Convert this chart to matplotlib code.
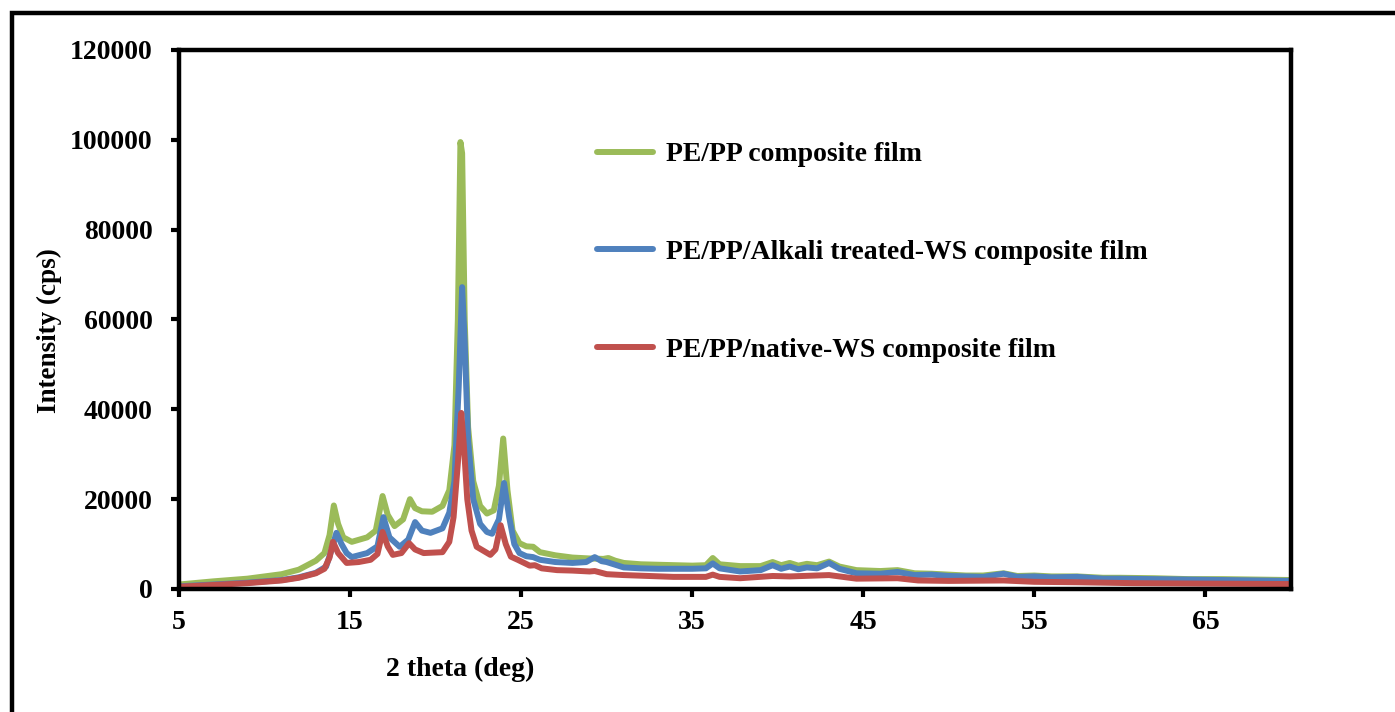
import matplotlib
matplotlib.use("Agg")
import matplotlib.pyplot as plt
from matplotlib.patches import Rectangle

# ---- data ----
labels = ["PE/PP composite film",
          "PE/PP/Alkali treated-WS composite film",
          "PE/PP/native-WS composite film"]
colors = ["#9BBB59", "#4F81BD", "#C0504D"]

x_green = [5, 7, 9, 11, 12, 13, 13.5, 13.8, 14.05, 14.3, 14.6, 15.1, 16.0, 16.5, 16.9, 17.2,
           17.6, 18.1, 18.5, 18.8, 19.2, 19.8, 20.4, 20.8, 21.1, 21.3, 21.45, 21.55, 21.7,
           21.9, 22.2, 22.6, 23.0, 23.4, 23.7, 23.95, 24.2, 24.5, 24.9, 25.3, 25.7, 26.1,
           27.0, 28.0, 29.0, 29.8, 30.1, 30.5, 31.0, 32.0, 33.0, 34.0, 35.0, 35.8, 36.2,
           36.6, 37.8, 39.0, 39.7, 40.2, 40.7, 41.2, 41.7, 42.3, 43.0, 43.6, 44.6, 46.0,
           47.0, 48.0, 49.0, 50, 51, 52, 53.2, 54, 55, 56, 57.5, 59, 60, 62, 64, 66, 68, 70]
y_green = [1000, 1700, 2300, 3300, 4300, 6300, 8000, 12000, 18600, 14500, 11500, 10500,
           11500, 13000, 20700, 16500, 14000, 15500, 20000, 18000, 17300, 17200, 18500,
           22000, 32000, 60000, 99500, 97000, 60000, 36000, 24000, 18500, 16800, 17500,
           23000, 33500, 22000, 13000, 10200, 9500, 9400, 8200, 7500, 7000, 6800, 6700,
           6900, 6300, 5800, 5500, 5400, 5300, 5200, 5300, 6900, 5500, 5100, 5100, 6000,
           5300, 5800, 5200, 5600, 5300, 6100, 5000, 4200, 4000, 4200, 3500, 3400, 3200,
           3000, 3000, 3500, 2900, 3000, 2800, 2800, 2500, 2500, 2400, 2200, 2200, 2100, 2000]

x_blue = [5, 7, 9, 11, 12, 13, 13.6, 13.9, 14.2, 14.5, 14.8, 15.1, 16.0, 16.6, 16.95, 17.3,
          17.9, 18.4, 18.8, 19.2, 19.7, 20.4, 20.8, 21.1, 21.35, 21.55, 21.7, 21.9, 22.2,
          22.6, 23.0, 23.3, 23.7, 24.0, 24.3, 24.6, 24.9, 25.3, 25.7, 26.1, 27.0, 28.0,
          28.8, 29.3, 29.7, 30.0, 31.0, 32, 33, 34, 35, 35.8, 36.2, 36.6, 37.8, 39.0, 39.7,
          40.2, 40.7, 41.2, 41.7, 42.3, 43.0, 43.6, 44.6, 46, 47, 48, 49, 50, 51, 52, 53.2,
          54, 55, 56, 57.5, 59, 60, 62, 64, 66, 68, 70]
y_blue = [600, 1000, 1400, 2000, 2600, 3600, 5000, 8500, 12500, 10000, 8000, 7100, 8000,
          9500, 16000, 11500, 9400, 11000, 14900, 13000, 12500, 13500, 17000, 24000, 45000,
          67200, 55000, 33000, 20000, 14500, 12700, 12300, 15500, 23600, 16000, 10000, 8000,
          7300, 7100, 6500, 6000, 5800, 6000, 7100, 6200, 6000, 4800, 4600, 4500, 4500,
          4500, 4600, 5700, 4600, 3900, 4200, 5300, 4500, 5000, 4400, 4800, 4600, 5800,
          4500, 3500, 3400, 3800, 3100, 3200, 2900, 2800, 2700, 3400, 2700, 2800, 2600,
          2700, 2300, 2300, 2200, 2100, 2000, 1900, 1800]

x_red = [5, 7, 9, 11, 12, 13, 13.5, 13.8, 14.0, 14.3, 14.8, 15.5, 16.2, 16.6, 16.9, 17.2,
         17.5, 18.0, 18.45, 18.8, 19.3, 20.4, 20.8, 21.05, 21.3, 21.5, 21.65, 21.85, 22.1,
         22.4, 23.2, 23.5, 23.8, 24.1, 24.4, 24.8, 25.5, 25.8, 26.2, 27.1, 28, 29, 29.3,
         30, 31, 33.9, 35.8, 36.2, 36.6, 37.8, 39.7, 40.7, 43.0, 44.6, 47.0, 48.2, 50,
         53.2, 55, 57.5, 60.8, 64.7, 70]
y_red = [500, 900, 1300, 1900, 2500, 3500, 4500, 7000, 10500, 8000, 5800, 6000, 6500, 7800,
         12700, 9500, 7600, 8000, 10200, 8800, 8000, 8200, 10500, 16000, 28000, 39200,
         32000, 20000, 13000, 9400, 7600, 8800, 14200, 10000, 7200, 6500, 5200, 5300, 4600,
         4200, 4100, 3900, 4000, 3300, 3100, 2700, 2700, 3200, 2700, 2400, 2900, 2800,
         3100, 2300, 2400, 1900, 1800, 1900, 1600, 1500, 1300, 1200, 1100]

x_ticks = [5, 15, 25, 35, 45, 55, 65]
y_ticks = [0, 20000, 40000, 60000, 80000, 100000, 120000]

# ---- figure ----
W, H = 1395, 712
fig = plt.figure(figsize=(W / 100, H / 100), dpi=100)
fig.patch.set_facecolor("white")

serif = ["Liberation Serif", "DejaVu Serif"]
FS = 20

# outer frame (extends past right and bottom edges)
fig.add_artist(Rectangle((12 / W, -0.2), 1.3, 1 - 13 / H + 0.2, transform=fig.transFigure,
                         fill=False, edgecolor="black", linewidth=3.2, clip_on=False))

L, R, T, B = 179, 1291, 50, 589
ax = fig.add_axes([L / W, 1 - B / H, (R - L) / W, (B - T) / H])

series = [(x_green, y_green), (x_blue, y_blue), (x_red, y_red)]
for (xs, ys), c, lab in zip(series, colors, labels):
    ax.plot(xs, ys, color=c, linewidth=4.3, label=lab,
            solid_joinstyle="round", solid_capstyle="round")

ax.set_xlim(5, 70)
ax.set_ylim(0, 120000)
ax.set_xticks(x_ticks)
ax.set_yticks(y_ticks)
ax.set_xticklabels([str(v) for v in x_ticks], fontfamily=serif, fontweight="bold", fontsize=FS)
ax.set_yticklabels([str(v) for v in y_ticks], fontfamily=serif, fontweight="bold", fontsize=FS)
ax.tick_params(axis="both", direction="out", length=6, width=3, color="black")
ax.tick_params(axis="x", pad=9)
ax.tick_params(axis="y", pad=13)
for s in ax.spines.values():
    s.set_linewidth(3.2)

ax.set_xlabel("2 theta (deg)", fontfamily=serif, fontweight="bold", fontsize=FS)
ax.xaxis.set_label_coords((460 - L) / (R - L), -(657 - B) / (B - T))
ax.set_ylabel("Intensity (cps)", fontfamily=serif, fontweight="bold", fontsize=19.5)
ax.yaxis.set_label_coords(-(L - 62) / (R - L), (B - 331) / (B - T))

leg = ax.legend(loc="upper left", bbox_to_anchor=((572 - L) / (R - L), (B - 117) / (B - T)),
                frameon=False, handlelength=2.0, handletextpad=0.47, labelspacing=2.6,
                prop={"family": serif, "weight": "bold", "size": FS})
for h in leg.get_lines():
    h.set_linewidth(4.3)

fig.savefig("out.png", dpi=100, facecolor="white")
